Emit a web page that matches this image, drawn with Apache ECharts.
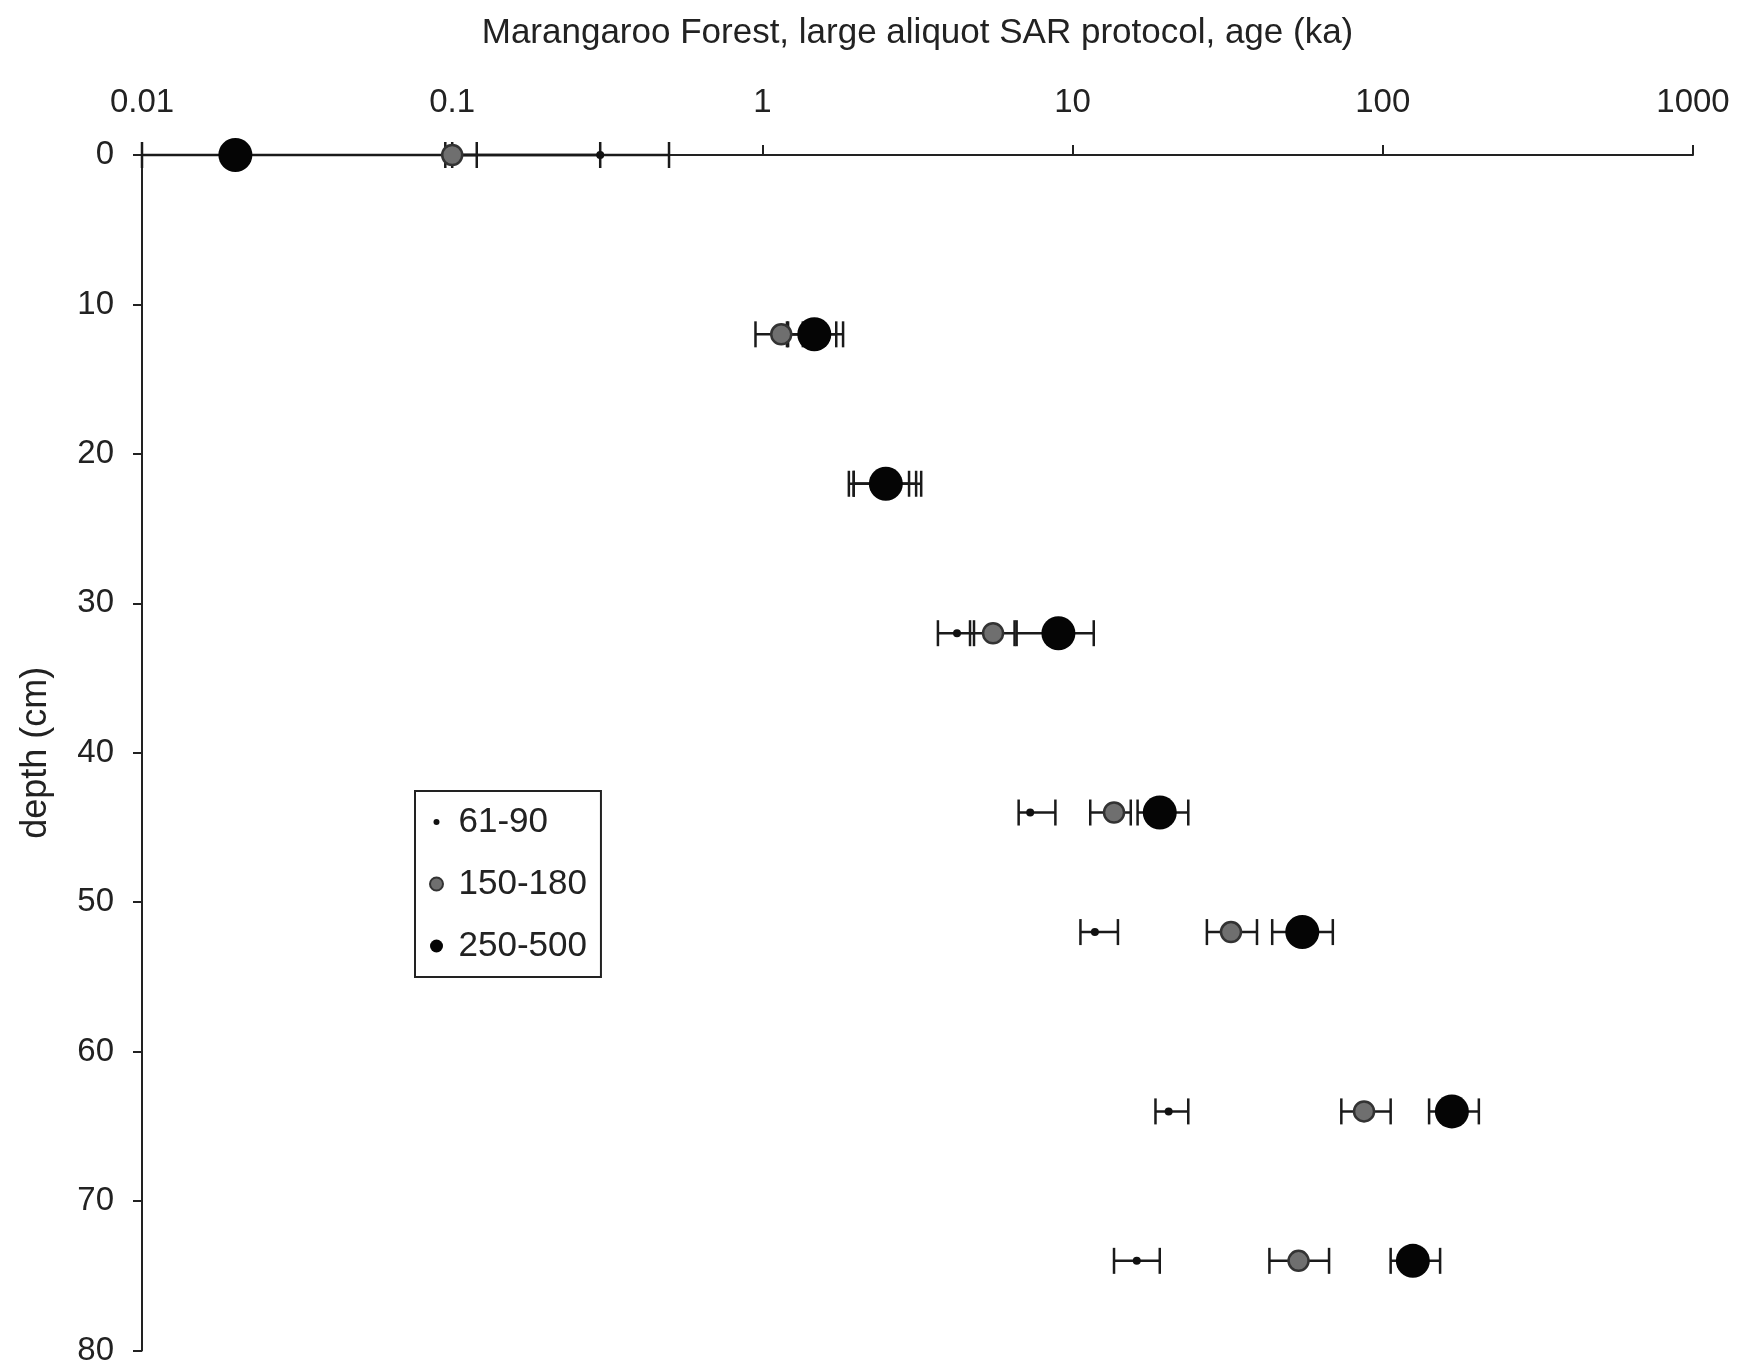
<!DOCTYPE html>
<html>
<head>
<meta charset="utf-8">
<script src="https://cdn.jsdelivr.net/npm/echarts@6/dist/echarts.min.js"></script>
<style>
html,body{margin:0;padding:0;background:#fff;}
#chart{width:1739px;height:1367px;}
</style>
</head>
<body>
<div id="chart"></div>
<script>
// ---- data (age in ka, depth in cm) ----
var seriesNames = ['61-90', '150-180', '250-500'];
var depths = [0, 12, 22, 32, 44, 52, 64, 74];

var age61 = [0.3, 1.45, 2.45, 4.24, 7.3, 11.8, 20.4, 16.1];
var low61 = [0.1, 1.21, 1.97, 3.68, 6.7, 10.6, 18.5, 13.6];
var high61 = [0.5, 1.73, 2.97, 4.81, 8.8, 14.0, 23.6, 19.1];

var age150 = [0.1, 1.15, 2.5, 5.54, 13.6, 32.4, 87, 53.5];
var low150 = [0.095, 0.95, 1.97, 4.67, 11.4, 27.1, 73.5, 43.1];
var high150 = [0.12, 1.35, 3.13, 6.5, 15.4, 39.3, 106, 67.1];

var age250 = [0.02, 1.47, 2.5, 9.0, 19.1, 55, 167, 125];
var low250 = [0.01, 1.2, 1.9, 6.6, 16.2, 44, 141, 106];
var high250 = [0.3, 1.82, 3.25, 11.7, 23.6, 69, 204, 153];

var xTickLabels = ['0.01', '0.1', '1', '10', '100', '1000'];
var yTickLabels = ['0', '10', '20', '30', '40', '50', '60', '70', '80'];

var xTitle = 'Marangaroo Forest, large aliquot SAR protocol, age (ka)';
var yTitle = 'depth (cm)';

// ---- build ----
function pts(age) {
  return age.map(function (a, i) { return [a, depths[i]]; });
}
function errPts(age, lo, hi) {
  return age.map(function (a, i) { return [a, depths[i], lo[i], hi[i]]; });
}
function errRender(params, api) {
  var y = api.value(1);
  var lo = api.coord([api.value(2), y]);
  var hi = api.coord([api.value(3), y]);
  var h = 13;
  var st = { stroke: '#1a1a1a', lineWidth: 2.5 };
  return {
    type: 'group',
    children: [
      { type: 'line', shape: { x1: lo[0], y1: lo[1], x2: hi[0], y2: hi[1] }, style: st },
      { type: 'line', shape: { x1: lo[0], y1: lo[1] - h, x2: lo[0], y2: lo[1] + h }, style: st },
      { type: 'line', shape: { x1: hi[0], y1: hi[1] - h, x2: hi[0], y2: hi[1] + h }, style: st }
    ]
  };
}

var FONT = 'Liberation Sans, Arial, sans-serif';
var chart = echarts.init(document.getElementById('chart'), null, { renderer: 'canvas' });

chart.setOption({
  backgroundColor: '#fff',
  animation: false,
  grid: { left: 142, right: 46, top: 155, bottom: 15, containLabel: false },
  legend: {
    orient: 'vertical',
    left: 415,
    top: 791,
    padding: [13, 14, 13, 14],
    itemWidth: 34,
    itemHeight: 13,
    itemGap: 26,
    borderColor: '#222',
    borderWidth: 2,
    backgroundColor: '#fff',
    textStyle: { fontFamily: FONT, fontSize: 35, color: '#222', lineHeight: 36 },
    data: [
      { name: seriesNames[0], icon: 'path://M0 0M13 13M3.5 6.5a3 3 0 1 0 6 0a3 3 0 1 0 -6 0' },
      { name: seriesNames[1] },
      { name: seriesNames[2] }
    ]
  },
  xAxis: {
    type: 'log',
    logBase: 10,
    min: 0.01,
    max: 1000,
    position: 'top',
    name: xTitle,
    nameLocation: 'middle',
    nameGap: 104,
    nameTextStyle: { fontFamily: FONT, fontSize: 35, color: '#222' },
    axisLine: { onZero: false, lineStyle: { color: '#222', width: 2 } },
    axisTick: { show: true, inside: false, length: 10, lineStyle: { color: '#222', width: 2 } },
    minorTick: { show: false },
    splitLine: { show: false },
    axisLabel: {
      margin: 36,
      fontFamily: FONT, fontSize: 33, color: '#222',
      formatter: function (v, i) { return xTickLabels[i] !== undefined ? xTickLabels[i] : ''; }
    }
  },
  yAxis: {
    type: 'value',
    inverse: true,
    min: 0,
    max: 80,
    interval: 10,
    name: yTitle,
    nameLocation: 'middle',
    nameGap: 88,
    nameRotate: 90,
    nameTextStyle: { fontFamily: FONT, fontSize: 36, color: '#222' },
    axisLine: { show: true, onZero: false, lineStyle: { color: '#222', width: 2 } },
    axisTick: { show: true, inside: false, length: 9, lineStyle: { color: '#222', width: 2 } },
    splitLine: { show: false },
    axisLabel: {
      margin: 28,
      fontFamily: FONT, fontSize: 33, color: '#222',
      formatter: function (v, i) { return yTickLabels[i] !== undefined ? yTickLabels[i] : ''; }
    }
  },
  series: [
    { name: seriesNames[0] + ' err', type: 'custom', renderItem: errRender, data: errPts(age61, low61, high61), encode: { x: 0, y: 1 }, z: 1, clip: false, silent: true },
    { name: seriesNames[1] + ' err', type: 'custom', renderItem: errRender, data: errPts(age150, low150, high150), encode: { x: 0, y: 1 }, z: 1, clip: false, silent: true },
    { name: seriesNames[2] + ' err', type: 'custom', renderItem: errRender, data: errPts(age250, low250, high250), encode: { x: 0, y: 1 }, z: 1, clip: false, silent: true },
    { name: seriesNames[0], type: 'scatter', data: pts(age61), symbol: 'circle', symbolSize: 8, clip: false, z: 3,
      itemStyle: { color: '#111', opacity: 1 } },
    { name: seriesNames[1], type: 'scatter', data: pts(age150), symbol: 'circle', symbolSize: 20, clip: false, z: 4,
      itemStyle: { color: '#6f6f6f', borderColor: '#333', borderWidth: 2.5, opacity: 1 } },
    { name: seriesNames[2], type: 'scatter', data: pts(age250), symbol: 'circle', symbolSize: 34, clip: false, z: 5,
      itemStyle: { color: '#050505', opacity: 1 } }
  ]
});
</script>
</body>
</html>
